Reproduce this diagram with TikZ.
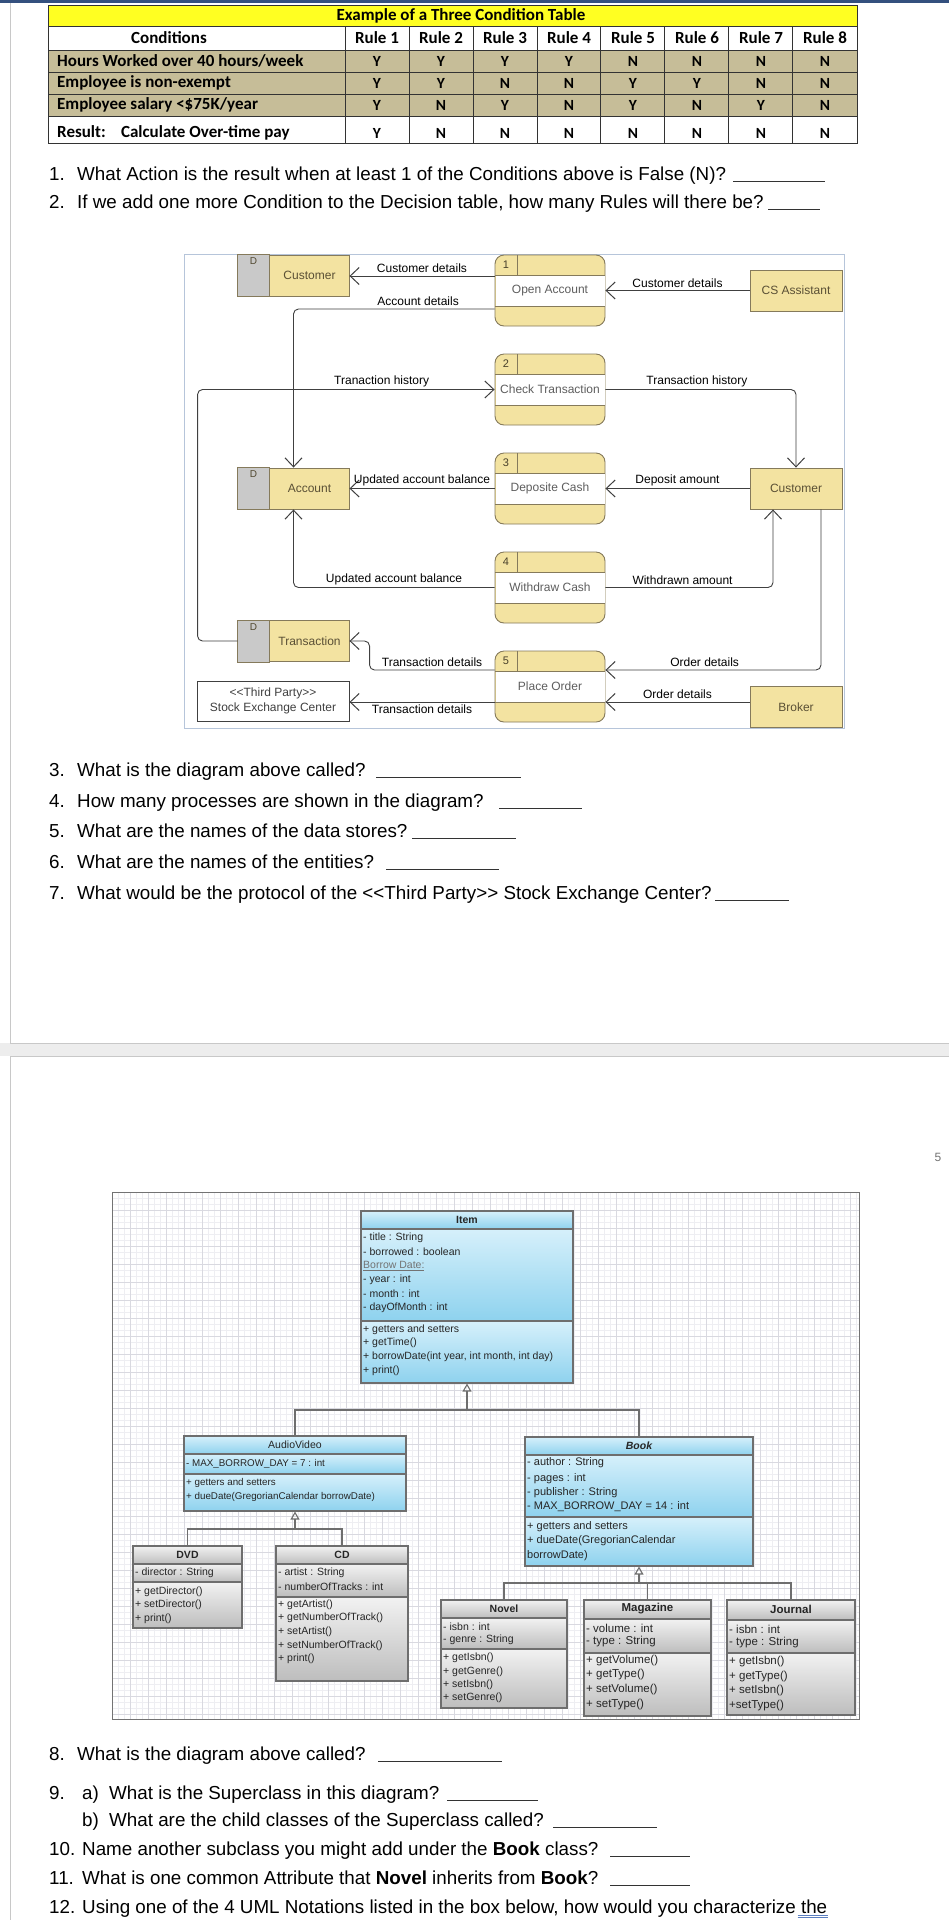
\documentclass[tikz,border=0pt]{standalone}
\usepackage{fontspec}
\setmainfont{Liberation Sans}
\newfontfamily\calibrifont{Carlito}
\usetikzlibrary{arrows.meta,calc}
\definecolor{navybar}{HTML}{34507E}
\definecolor{pageedge}{HTML}{C8C8C8}
\definecolor{pagesep}{HTML}{EDEDED}
\definecolor{tblyellow}{HTML}{FFFF22}
\definecolor{tbltan}{HTML}{C6BD98}
\definecolor{dfdyellow}{HTML}{F3E3A1}
\definecolor{dfdedge}{HTML}{857A5B}
\definecolor{dfdgray}{HTML}{C9C9C9}
\definecolor{dfdtext}{HTML}{5A5035}
\definecolor{ptext}{HTML}{5E5E5E}
\definecolor{framblue}{HTML}{B6C5DA}
\definecolor{umlblueL}{HTML}{D6F0FB}
\definecolor{umlblueD}{HTML}{8ED2EE}
\definecolor{umlgrayL}{HTML}{F2F2F2}
\definecolor{umlgrayD}{HTML}{BDBDBD}
\definecolor{umledgec}{HTML}{6E6E6E}
\definecolor{umltext}{HTML}{262626}
\definecolor{gridminor}{HTML}{EEEEF2}
\definecolor{gridmajor}{HTML}{D9D9E0}
\definecolor{spellblue}{HTML}{5B7FC0}
\tikzset{
  tblline/.style={draw=black!80, line width=0.9pt},
  tbltxt/.style={font=\calibrifont\bfseries\fontsize{17}{19}\selectfont, inner sep=0pt},
  tblval/.style={font=\calibrifont\bfseries\fontsize{15.5}{18}\selectfont, inner sep=0pt},
  qtxt/.style={font=\fontsize{18.8}{22}\selectfont, anchor=base west, inner sep=0pt},
  qline/.style={draw=black!80, line width=0.9pt},
  dstore/.style={draw=dfdedge, fill=dfdyellow, line width=0.9pt, minimum width=111pt, minimum height=41pt, inner sep=0pt},
  dgray/.style={draw=dfdedge, fill=dfdgray, line width=0.9pt},
  dtxt/.style={font=\fontsize{12}{14}\selectfont, text=dfdtext, inner sep=0pt},
  dD/.style={font=\fontsize{10}{12}\selectfont, text=dfdtext!90!black, inner sep=0pt},
  proc/.style={draw=dfdedge, fill=dfdyellow, line width=0.9pt, rounded corners=9pt, minimum width=110pt, minimum height=71pt, inner sep=0pt},
  ptxt/.style={font=\fontsize{12}{14}\selectfont, text=ptext, inner sep=0pt},
  pnum/.style={font=\fontsize{11}{13}\selectfont, text=dfdtext!80!black, inner sep=0pt},
  ent/.style={draw=dfdedge, fill=dfdyellow, line width=0.9pt, minimum width=92pt, minimum height=41pt, inner sep=0pt, text=dfdtext, font=\fontsize{12}{14}\selectfont},
  tpbox/.style={draw=black!75, fill=white, line width=0.9pt, minimum width=152pt, minimum height=40pt, inner sep=0pt, text=black!75, align=center, font=\fontsize{12}{14.5}\selectfont},
  flow/.style={draw=black!75, line width=0.9pt, rounded corners=5pt, -{Straight Barb[length=9pt,width=17pt,line width=1pt]}},
  flab/.style={font=\fontsize{12}{14}\selectfont, text=black, inner sep=2.5pt},
  umlframe/.style={draw=umledgec, line width=1.1pt, inner sep=0pt},
  umledge/.style={draw=umledgec, line width=1.1pt},
  umltx/.style={font=\fontsize{10.5}{12}\selectfont, text=umltext, anchor=west, inner sep=0pt},
  umlhd/.style={font=\bfseries\fontsize{10.5}{12}\selectfont, text=umltext, inner sep=0pt},
  genl/.style={draw=umledgec, line width=1.1pt},
  gentip/.style={-{Triangle[open, length=8pt, width=9pt, line width=1.1pt]}}
}
\newcommand{\UMLbox}[9]{%
  \shade[top color=#8, bottom color=#9] (#2,#3) rectangle (#4,#6);
  \shade[top color=#8, bottom color=#9] (#2,#6) rectangle (#4,#7);
  \shade[top color=#8, bottom color=#9] (#2,#7) rectangle (#4,#5);
  \node[umlframe, minimum width={(#4-#2)*1pt}, minimum height={(#5-#3)*1pt}] (#1) at ({(#2+#4)/2},{(#3+#5)/2}) {};
  \draw[umledge] (#2,#6) -- (#4,#6) (#2,#7) -- (#4,#7);
}
\newcommand{\DFDproc}[4]{%
  \node[proc] (#1) at (550,#2) {};
  \fill[white] (495.5,{#2-15.5}) rectangle (604.5,{#2+15.5});
  \draw[dfdedge, line width=0.9pt] (495,{#2-15.5}) -- (605,{#2-15.5}) (495,{#2+15.5}) -- (605,{#2+15.5}) (517,{#2-35.5}) -- (517,{#2-15.5});
  \node[ptxt] (#1t) at (550,#2) {#4};
  \node[pnum] (#1n) at (506,{#2-25.5}) {#3};
}
\newcommand{\DFDstore}[4]{%
  \node[dstore] (#1) at (#2,#3) {};
  \filldraw[dgray] (#1.north west) rectangle ([xshift=32pt]#1.south west);
  \node[dtxt] (#1L) at ([xshift=16pt]#1.center) {#4};
  \node[dD] (#1D) at ([xshift=16pt, yshift=14pt]#1.west) {D};
}
\begin{document}
\begin{tikzpicture}[x=1pt,y=-1pt]
\useasboundingbox (0,0) rectangle (949,1920);
\fill[white] (0,0) rectangle (949,1920);
% ---------- page frame ----------
\fill[pagesep] (0,1043) rectangle (949,1056);
\draw[pageedge, line width=1pt] (10,3) -- (10,1043) -- (949,1043);
\draw[pageedge, line width=1pt] (949,1056) -- (10,1056) -- (10,1920);
\fill[navybar] (0,0) rectangle (949,3);
\node[font=\fontsize{12}{14}\selectfont, text=black!55, inner sep=0pt] (pgnum) at (938,1157) {5};

% ---------- decision table ----------
\fill[tblyellow] (48,5) rectangle (857,26);
\fill[tbltan] (48,50) rectangle (857,116);
\draw[tblline] (48,5) rectangle (857,143);
\foreach \yy in {26,50,72,94,116} \draw[tblline] (48,\yy) -- (857,\yy);
\foreach \xx in {345,409,473,537,600,664,728,792} \draw[tblline] (\xx,26) -- (\xx,143);
\node[tbltxt] (tTitle) at (461,15.5) {Example of a Three Condition Table};
\node[tbltxt] (tCond) at (169,38) {Conditions};
\foreach \k in {1,...,8} \node[tbltxt] (tR\k) at ({313+64*\k},38) {Rule \k};
\node[tbltxt, anchor=west] (tL1) at (57,61) {Hours Worked over 40 hours/week};
\node[tbltxt, anchor=west] (tL2) at (57,83) {Employee is non-exempt};
\node[tbltxt, anchor=west] (tL3) at (57,105) {Employee salary <\$75K/year};
\node[tbltxt, anchor=west] (tL4) at (57,132.5) {Result:\hspace{0.9em}Calculate Over-time pay};
\foreach \row/\yy/\vals in {1/61/{Y,Y,Y,Y,N,N,N,N},2/83/{Y,Y,N,N,Y,Y,N,N},3/105/{Y,N,Y,N,Y,N,Y,N},4/133/{Y,N,N,N,N,N,N,N}}{
  \foreach \v [count=\k] in \vals {
    \node[tblval] (tv\row-\k) at ({313+64*\k},\yy) {\v};
  }
}

% ---------- questions 1-2 ----------
\node[qtxt] (q1n) at (49,180) {1.};
\node[qtxt] (q1) at (77,180) {What Action is the result when at least 1 of the Conditions above is False (N)?};
\draw[qline] (733,181.5) -- (825,181.5);
\node[qtxt] (q2n) at (49,208) {2.};
\node[qtxt] (q2) at (77,208) {If we add one more Condition to the Decision table, how many Rules will there be?};
\draw[qline] (768,209.5) -- (820,209.5);

% ---------- DFD ----------
\draw[framblue, line width=1pt] (184,254) rectangle (844,728);
\DFDstore{dsCust}{293.5}{275.5}{Customer}
\DFDstore{dsAcc}{293.5}{488.5}{Account}
\DFDstore{dsTr}{293.5}{641}{Transaction}
\node[tpbox] (tp) at (273,701) {<\kern0pt<Third Party>\kern0pt>\\Stock Exchange Center};
\DFDproc{p1}{290.5}{1}{Open Account}
\DFDproc{p2}{389.5}{2}{Check Transaction}
\DFDproc{p3}{488.5}{3}{Deposite Cash}
\DFDproc{p4}{587.5}{4}{Withdraw Cash}
\DFDproc{p5}{686.5}{5}{Place Order}
\node[ent] (csa) at (796,290.5) {CS Assistant};
\node[ent] (custE) at (796,488.5) {Customer};
\node[ent] (broker) at (796,707) {Broker};

\coordinate (c1) at ([yshift=14.5pt]p1.west);
\draw[flow] (c1) -- node[flab, above]{Customer details} (c1 -| dsCust.east);
\coordinate (c2) at ([yshift=-18.5pt]p1.west);
\draw[flow] (c2) -- node[flab, above, pos=0.38]{Account details} (c2 -| dsAcc.north) -- (dsAcc.north);
\draw[flow] (csa.west) -- node[flab, above]{Customer details} (p1.east);
\draw[flow] (dsTr.west) -- ++(-40,0) |- node[flab, above, pos=0.81]{Tranaction history} (p2.west);
\draw[flow] (p2.east) -| node[flab, above, pos=0.24]{Transaction history} (custE.north);
\draw[flow] (p3.west) -- node[flab, above]{Updated account balance} (dsAcc.east);
\draw[flow] (custE.west) -- node[flab, above]{Deposit amount} (p3.east);
\draw[flow] (p4.west) -| node[flab, above, pos=0.25]{Updated account balance} (dsAcc.south);
\draw[flow] (p4.east) -| node[flab, above, pos=0.23]{Withdrawn amount} ([xshift=-23pt]custE.south);
\coordinate (c5a) at ([yshift=16.5pt]p5.west);
\draw[flow] (c5a) -- node[flab, above]{Transaction details} ++(-125,0) |- (dsTr.east);
\coordinate (c5b) at ([yshift=-15.5pt]p5.west);
\draw[flow] (c5b) -- node[flab, below]{Transaction details} (c5b -| tp.east);
\draw[flow] ([xshift=25pt]custE.south) |- node[flab, above, pos=0.77]{Order details} ([yshift=16.5pt]p5.east);
\coordinate (c5c) at ([yshift=-15.5pt]p5.east);
\draw[flow] (c5c -| broker.west) -- node[flab, above]{Order details} (c5c);

% ---------- questions 3-7 ----------
\node[qtxt] (q3n) at (49,776) {3.};
\node[qtxt] (q3) at (77,776) {What is the diagram above called?};
\draw[qline] (376,777.5) -- (521,777.5);
\node[qtxt] (q4n) at (49,807) {4.};
\node[qtxt] (q4) at (77,807) {How many processes are shown in the diagram?};
\draw[qline] (499,808.5) -- (582,808.5);
\node[qtxt] (q5n) at (49,837) {5.};
\node[qtxt] (q5) at (77,837) {What are the names of the data stores?};
\draw[qline] (412,838.5) -- (516,838.5);
\node[qtxt] (q6n) at (49,868) {6.};
\node[qtxt] (q6) at (77,868) {What are the names of the entities?};
\draw[qline] (386,869.5) -- (499,869.5);
\node[qtxt] (q7n) at (49,899) {7.};
\node[qtxt] (q7) at (77,899) {What would be the protocol of the <\kern0pt<Third Party>\kern0pt> Stock Exchange Center?};
\draw[qline] (715,900.5) -- (789,900.5);

% ---------- UML grid ----------
\foreach \xx in {112,118,...,859} \draw[gridminor, line width=0.5pt] (\xx,1192) -- (\xx,1719);
\foreach \yy in {1192,1198,...,1719} \draw[gridminor, line width=0.5pt] (112,\yy) -- (859,\yy);
\foreach \xx in {112,130,...,859} \draw[gridmajor, line width=0.5pt] (\xx,1192) -- (\xx,1719);
\foreach \yy in {1192,1210,...,1719} \draw[gridmajor, line width=0.5pt] (112,\yy) -- (859,\yy);
\draw[black!55, line width=1pt] (112,1192) rectangle (859,1719);

% ---------- UML classes ----------
\UMLbox{item}{361}{1211}{573}{1383}{1229}{1321}{umlblueL}{umlblueD}
\node[umlhd] (itemH) at (467,1220) {Item};
\foreach \yy/\tx [count=\k] in {1238/{- title : String},1252/{- borrowed : boolean},1266/{\textcolor{black!55}{\underline{Borrow Date:}}},1280/{- year : int},1294/{- month : int},1308/{- dayOfMonth : int},1330/{+ getters and setters},1343/{+ getTime()},1357/{+ borrowDate(int year, int month, int day)},1371/{+ print()}}
  \node[umltx] (itemT\k) at (363,\yy) {\tx};

\UMLbox{audio}{184}{1436}{406}{1511}{1454}{1474}{umlblueL}{umlblueD}
\node[umltx, anchor=center] (audioH) at (295,1445) {AudioVideo};
\foreach \yy/\tx [count=\k] in {1464/{- MAX\_BORROW\_DAY = 7 : int},1483/{+ getters and setters},1497/{+ dueDate(GregorianCalendar borrowDate)}}
  \node[umltx, font=\fontsize{9.8}{12}\selectfont] (audioT\k) at (186,\yy) {\tx};

\UMLbox{book}{525}{1437}{753}{1566}{1455}{1517}{umlblueL}{umlblueD}
\node[umlhd, font=\bfseries\itshape\fontsize{10.5}{12}\selectfont] (bookH) at (639,1446) {Book};
\foreach \yy/\tx [count=\k] in {1463/{- author : String},1479/{- pages : int},1493/{- publisher : String},1507/{- MAX\_BORROW\_DAY = 14 : int},1527/{+ getters and setters},1541/{+ dueDate(GregorianCalendar},1556/{borrowDate)}}
  \node[umltx, font=\fontsize{11}{13}\selectfont] (bookT\k) at (527,\yy) {\tx};

\UMLbox{dvd}{133}{1546}{242}{1628}{1564}{1582}{umlgrayL}{umlgrayD}
\node[umlhd] (dvdH) at (187.5,1555) {DVD};
\foreach \yy/\tx [count=\k] in {1573/{- director : String},1592/{+ getDirector()},1605/{+ setDirector()},1619/{+ print()}}
  \node[umltx] (dvdT\k) at (135,\yy) {\tx};

\UMLbox{cd}{276}{1546}{408}{1681}{1564}{1597}{umlgrayL}{umlgrayD}
\node[umlhd] (cdH) at (342,1555) {CD};
\foreach \yy/\tx [count=\k] in {1573/{- artist : String},1587/{- numberOfTracks : int},1605/{+ getArtist()},1618/{+ getNumberOfTrack()},1632/{+ setArtist()},1646/{+ setNumberOfTrack()},1659/{+ print()}}
  \node[umltx] (cdT\k) at (278,\yy) {\tx};

\UMLbox{novel}{441}{1600}{567}{1708}{1618}{1649}{umlgrayL}{umlgrayD}
\node[umlhd] (novelH) at (504,1609) {Novel};
\foreach \yy/\tx [count=\k] in {1627/{- isbn : int},1640/{- genre : String},1658/{+ getIsbn()},1672/{+ getGenre()},1685/{+ setIsbn()},1698/{+ setGenre()}}
  \node[umltx] (novelT\k) at (443,\yy) {\tx};

\UMLbox{magazine}{584}{1600}{711}{1716}{1619}{1653}{umlgrayL}{umlgrayD}
\node[umlhd, font=\bfseries\fontsize{11.5}{13}\selectfont] (magH) at (647.5,1609) {Magazine};
\foreach \yy/\tx [count=\k] in {1628/{- volume : int},1642/{- type : String},1661/{+ getVolume()},1675/{+ getType()},1690/{+ setVolume()},1705/{+ setType()}}
  \node[umltx, font=\fontsize{11.5}{13}\selectfont] (magT\k) at (586,\yy) {\tx};

\UMLbox{journal}{727}{1600}{855}{1715}{1620}{1653}{umlgrayL}{umlgrayD}
\node[umlhd, font=\bfseries\fontsize{11.5}{13}\selectfont] (jouH) at (791,1609) {Journal};
\foreach \yy/\tx [count=\k] in {1629/{- isbn : int},1643/{- type : String},1662/{+ getIsbn()},1677/{+ getType()},1691/{+ setIsbn()},1706/{+setType()}}
  \node[umltx, font=\fontsize{11.5}{13}\selectfont] (jouT\k) at (729,\yy) {\tx};

% ---------- generalisations ----------
\coordinate (j1) at (467,1410);
\draw[genl] (audio.north) |- (j1) -| (book.north);
\draw[genl, gentip] (j1) -- (item.south);
\coordinate (j2) at (295,1529);
\draw[genl] (dvd.north) |- (j2) -| (cd.north);
\draw[genl, gentip] (j2) -- (audio.south);
\coordinate (j3) at (639,1583);
\draw[genl] (novel.north) |- (j3) -| (journal.north);
\draw[genl] (magazine.north) |- (j3);
\draw[genl, gentip] (j3) -- (book.south);

% ---------- questions 8-12 ----------
\node[qtxt] (q8n) at (49,1760) {8.};
\node[qtxt] (q8) at (77,1760) {What is the diagram above called?};
\draw[qline] (378,1761.5) -- (502,1761.5);
\node[qtxt] (q9n) at (49,1799) {9.};
\node[qtxt] (q9a) at (82,1799) {a)};
\node[qtxt] (q9) at (109,1799) {What is the Superclass in this diagram?};
\draw[qline] (447,1800.5) -- (538,1800.5);
\node[qtxt] (q9b) at (82,1826) {b)};
\node[qtxt] (q9bt) at (109,1826) {What are the child classes of the Superclass called?};
\draw[qline] (553,1827.5) -- (657,1827.5);
\node[qtxt] (q10n) at (49,1855) {10.};
\node[qtxt] (q10) at (82,1855) {Name another subclass you might add under the \textbf{Book} class?};
\draw[qline] (610,1856.5) -- (690,1856.5);
\node[qtxt] (q11n) at (49,1884) {11.};
\node[qtxt] (q11) at (82,1884) {What is one common Attribute that \textbf{Novel} inherits from \textbf{Book}?};
\draw[qline] (610,1885.5) -- (690,1885.5);
\node[qtxt] (q12n) at (49,1913) {12.};
\node[qtxt] (q12) at (82,1913) {Using one of the 4 UML Notations listed in the box below, how would you characterize the};
\draw[spellblue, line width=0.7pt] ([xshift=-30pt, yshift=-2.5pt]q12.base east) -- ([yshift=-2.5pt]q12.base east);
\draw[spellblue, line width=0.7pt] ([xshift=-30pt, yshift=-4.5pt]q12.base east) -- ([yshift=-4.5pt]q12.base east);
\end{tikzpicture}
\end{document}
